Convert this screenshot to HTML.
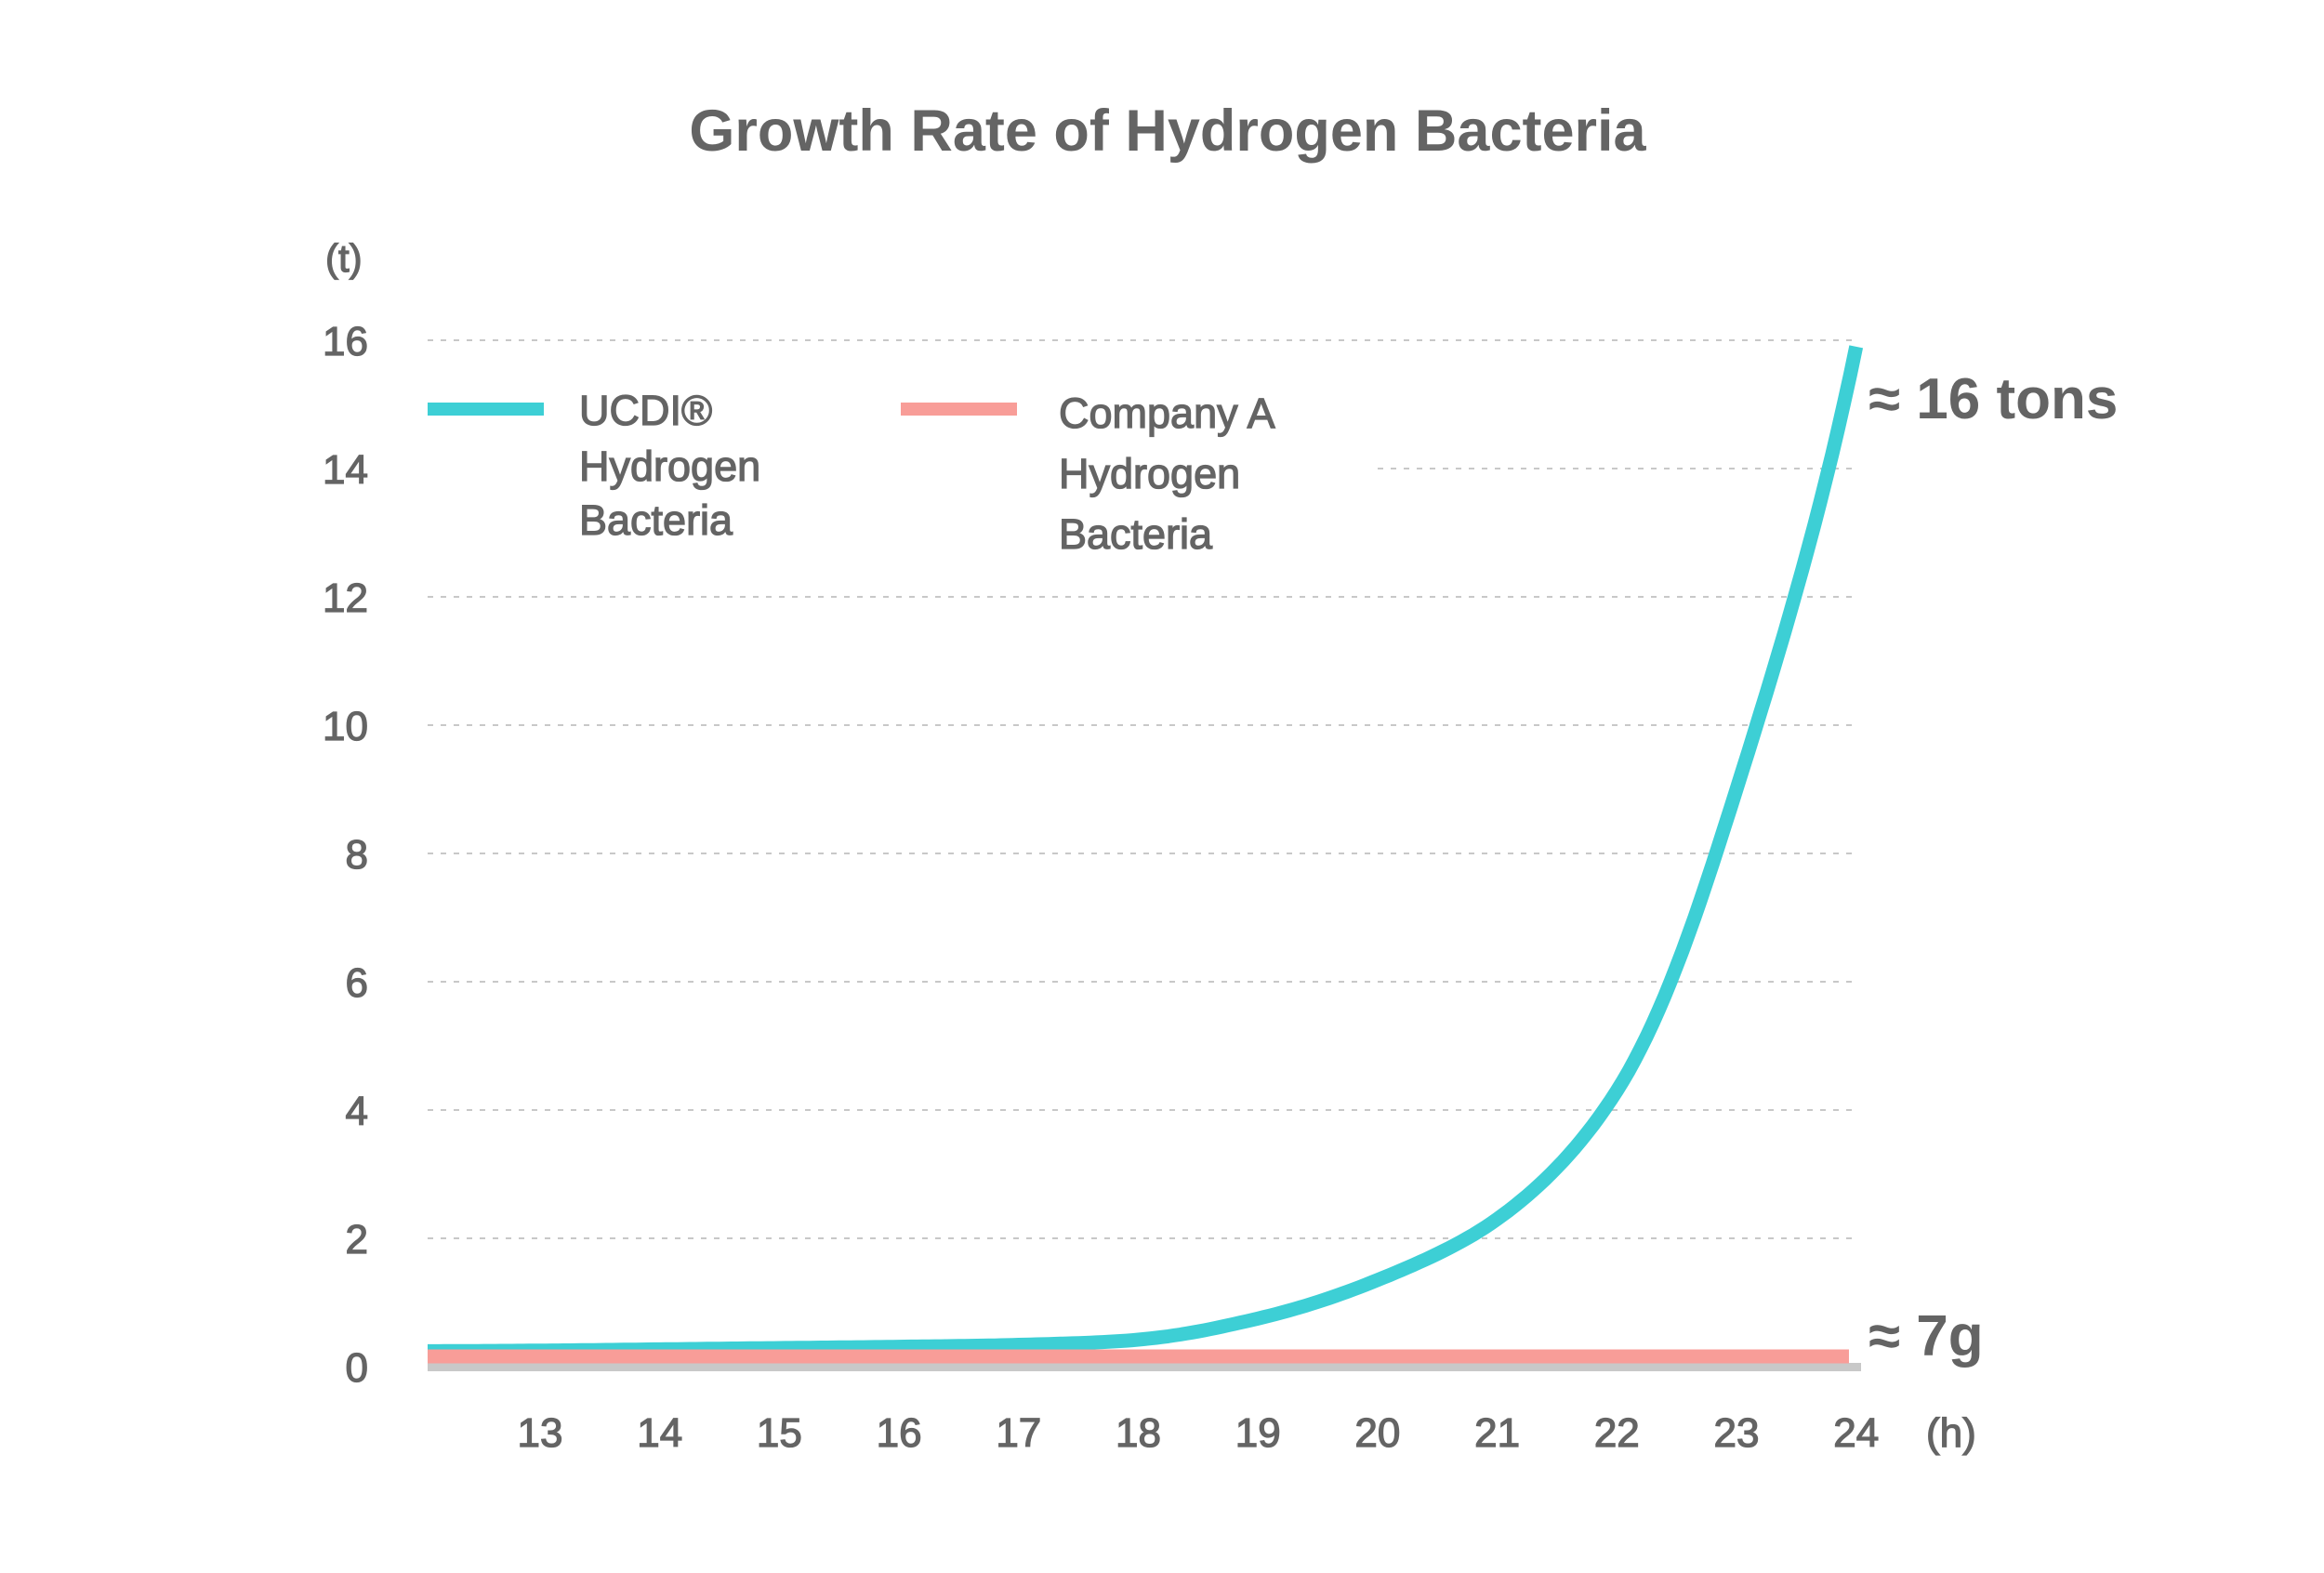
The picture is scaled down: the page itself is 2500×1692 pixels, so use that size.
<!DOCTYPE html>
<html><head><meta charset="utf-8"><style>
body{margin:0;background:#fff;}
svg{display:block;font-family:"Liberation Sans",sans-serif;}
.t{stroke:#646464;stroke-width:1.3px;}
</style></head><body>
<svg id="chart" width="2500" height="1692" viewBox="0 0 2500 1692">
<text x="1256" y="162" text-anchor="middle" font-size="63" font-weight="bold" fill="#646464">Growth Rate of Hydrogen Bacteria</text>
<text class="t" x="350" y="292" font-size="42" fill="#646464">(t)</text>
<g id="grid"></g>
<g id="yticks"></g>
<g id="xticks"></g>
<text class="t" x="2072" y="1556" font-size="44" fill="#646464">(h)</text>
<rect x="460" y="1466" width="1542" height="9" fill="#c8c8c8"/>
<rect x="455" y="470" width="1020" height="40" fill="#fff"/>
<g id="series"></g>
<g>
<rect x="460" y="433" width="125" height="14" fill="#3dcfd5"/>
<text class="t" font-size="45" fill="#646464"><tspan x="623" y="457">UCDI®</tspan><tspan x="623" y="517">Hydrogen</tspan><tspan x="623" y="575">Bacteria</tspan></text>
<rect x="969" y="433" width="125" height="14" fill="#f89d98"/>
<text class="t" font-size="45" fill="#646464"><tspan x="1139" y="460">Company A</tspan><tspan x="1139" y="525">Hydrogen</tspan><tspan x="1139" y="590">Bacteria</tspan></text>
</g>
<text x="2010" y="450" font-size="62" font-weight="bold" fill="#646464">≈ 16 tons</text>
<text x="2010" y="1458" font-size="62" font-weight="bold" fill="#646464">≈ 7g</text>
</svg>
<script>
const yTicks=[0,2,4,6,8,10,12,14,16];
const xTicks=[13,14,15,16,17,18,19,20,21,22,23,24];
const ucdiHours=[12.06,13,14,15,16,17,18,19,20,21,22,23,24];
const ucdiValues=[0.24,0.25,0.27,0.29,0.31,0.34,0.42,0.75,1.35,2.3,4.3,9.0,15.9];
const companyHours=[12.06,23.94];
const companyValues=[0.16,0.16];
const NS="http://www.w3.org/2000/svg";
function X(h){return 581+(h-13)*128.7;}
function Y(v){return 1470-v*69;}
function mk(t,a,p){const e=document.createElementNS(NS,t);for(const k in a)e.setAttribute(k,a[k]);p.appendChild(e);return e;}
const grid=document.getElementById('grid'),yt=document.getElementById('yticks'),xt=document.getElementById('xticks'),ser=document.getElementById('series');
yTicks.forEach(v=>{
 if(v>0){const l=mk('line',{x1:460,x2:2000,y1:Y(v),y2:Y(v),stroke:'#c8c8c8','stroke-width':2,'stroke-dasharray':'6 8'},grid);
 
 }
 const t=mk('text',{x:396,y:Y(v)+16,'text-anchor':'end','font-size':44,fill:'#646464','class':'t'},yt);
 t.textContent=v;
 
 
});
xTicks.forEach(h=>{
 const t=mk('text',{x:X(h),y:1556,'text-anchor':'middle','font-size':44,fill:'#646464','class':'t'},xt);
 t.textContent=h;
 
 
});
// smooth curve: interpolate log(value) with Catmull-Rom, sample densely
const L=ucdiValues.map(v=>Math.log(v));
let pts=[];
for(let i=0;i<ucdiHours.length-1;i++){
 const h0=ucdiHours[Math.max(0,i-1)],h1=ucdiHours[i],h2=ucdiHours[i+1],h3=ucdiHours[Math.min(ucdiHours.length-1,i+2)];
 const l0=L[Math.max(0,i-1)],l1=L[i],l2=L[i+1],l3=L[Math.min(L.length-1,i+2)];
 const m1=(l2-l0)/(h2-h0||1),m2=(l3-l1)/(h3-h1||1),dh=h2-h1;
 for(let s=0;s<20;s++){const t=s/20,t2=t*t,t3=t2*t;
  const l=(2*t3-3*t2+1)*l1+(t3-2*t2+t)*dh*m1+(-2*t3+3*t2)*l2+(t3-t2)*dh*m2;
  pts.push([X(h1+t*dh),Y(Math.exp(l))]);}
}
pts.push([X(ucdiHours[ucdiHours.length-1]),Y(ucdiValues[ucdiValues.length-1])]);
const cl=mk('path',{d:'M'+pts.map(p=>p[0].toFixed(1)+','+p[1].toFixed(1)).join(' L'),fill:'none',stroke:'#3dcfd5','stroke-width':15,'stroke-linejoin':'round'},ser);


const pk=mk('line',{x1:X(companyHours[0]),x2:X(companyHours[1]),y1:Y(companyValues[0]),y2:Y(companyValues[1]),stroke:'#f89d98','stroke-width':15},ser);


</script>
</body></html>
